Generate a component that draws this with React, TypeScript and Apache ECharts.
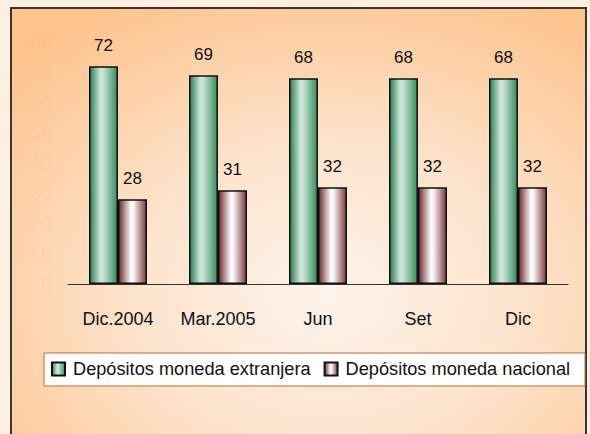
import React, { useEffect, useRef } from "react";
import * as echarts from "echarts";

const categories = ["Dic.2004", "Mar.2005", "Jun", "Set", "Dic"];
const extranjera = [72, 69, 68, 68, 68];
const nacional = [28, 31, 32, 32, 32];
const seriesNames = ["Depósitos moneda extranjera", "Depósitos moneda nacional"];
const yTicks = { min: 0, max: 80, interval: 10 };

const FONT = "'Liberation Sans', Arial, sans-serif";

export default function App() {
  const ref = useRef<HTMLDivElement>(null);
  useEffect(() => {
    document.body.style.margin = "0";
    if (!ref.current) return;
    const chart = echarts.init(ref.current, null, { renderer: "svg" });
    const greenGrad = new echarts.graphic.LinearGradient(0, 0, 1, 0, [
      { offset: 0, color: "#2e7a50" },
      { offset: 0.38, color: "#cbe7d8" },
      { offset: 0.5, color: "#c3e2d1" },
      { offset: 1, color: "#3a8a5e" },
    ]);
    const maroonGrad = new echarts.graphic.LinearGradient(0, 0, 1, 0, [
      { offset: 0, color: "#6a2a30" },
      { offset: 0.45, color: "#ffffff" },
      { offset: 0.55, color: "#f6eeee" },
      { offset: 1, color: "#7a3a40" },
    ]);
    const labelStyle = {
      show: true,
      position: "top" as const,
      distance: 12,
      fontSize: 17,
      color: "#111",
      fontFamily: FONT,
    };
    chart.setOption({
      animation: false,
      backgroundColor: "#fdeee0",
      graphic: [
        {
          type: "rect",
          z: -10,
          shape: { x: 11, y: 8, width: 575, height: 440 },
          style: {
            fill: new echarts.graphic.RadialGradient(0.55, 0.65, 0.75, [
              { offset: 0, color: "#fdf3ec" },
              { offset: 0.45, color: "#fde3cc" },
              { offset: 1, color: "#fdc48e" },
            ]),
            stroke: "#3a3530",
            lineWidth: 2,
          },
        },
        {
          type: "rect",
          z: -5,
          shape: { x: 44, y: 353, width: 541, height: 33 },
          style: { fill: "#ffffff", stroke: "#c06a35", lineWidth: 1 },
        },
      ],
      legend: {
        left: 51,
        top: 360,
        padding: 0,
        width: 540,
        itemWidth: 13,
        itemHeight: 13,
        itemGap: 13,
        icon: "rect",
        textStyle: { fontSize: 18.2, color: "#111", fontFamily: FONT, padding: [0, 0, 0, 3] },
        data: seriesNames,
      },
      grid: { left: 68, right: 22, top: 42, bottom: 150 },
      xAxis: {
        type: "category",
        data: categories,
        axisLine: { lineStyle: { color: "#333", width: 1 } },
        axisTick: { length: 7, lineStyle: { color: "#555" } },
        axisLabel: { fontSize: 18, color: "#111", fontFamily: FONT, margin: 26, interval: 0 },
      },
      yAxis: {
        type: "value",
        min: yTicks.min,
        max: yTicks.max,
        interval: yTicks.interval,
        axisLine: { show: false },
        axisTick: { show: false },
        splitLine: { show: false },
        axisLabel: { fontSize: 20, color: "rgba(230,150,90,0.08)", fontFamily: FONT, margin: 16 },
      },
      series: [
        {
          name: seriesNames[0],
          type: "bar",
          data: extranjera,
          barWidth: 29,
          barGap: "0%",
          itemStyle: { color: greenGrad, borderColor: "#111", borderWidth: 1.5 },
          label: labelStyle,
        },
        {
          name: seriesNames[1],
          type: "bar",
          data: nacional,
          barWidth: 29,
          barGap: "0%",
          itemStyle: { color: maroonGrad, borderColor: "#111", borderWidth: 1.5 },
          label: labelStyle,
        },
      ],
    });
    return () => chart.dispose();
  }, []);
  return <div ref={ref} style={{ width: 590, height: 434 }} />;
}
